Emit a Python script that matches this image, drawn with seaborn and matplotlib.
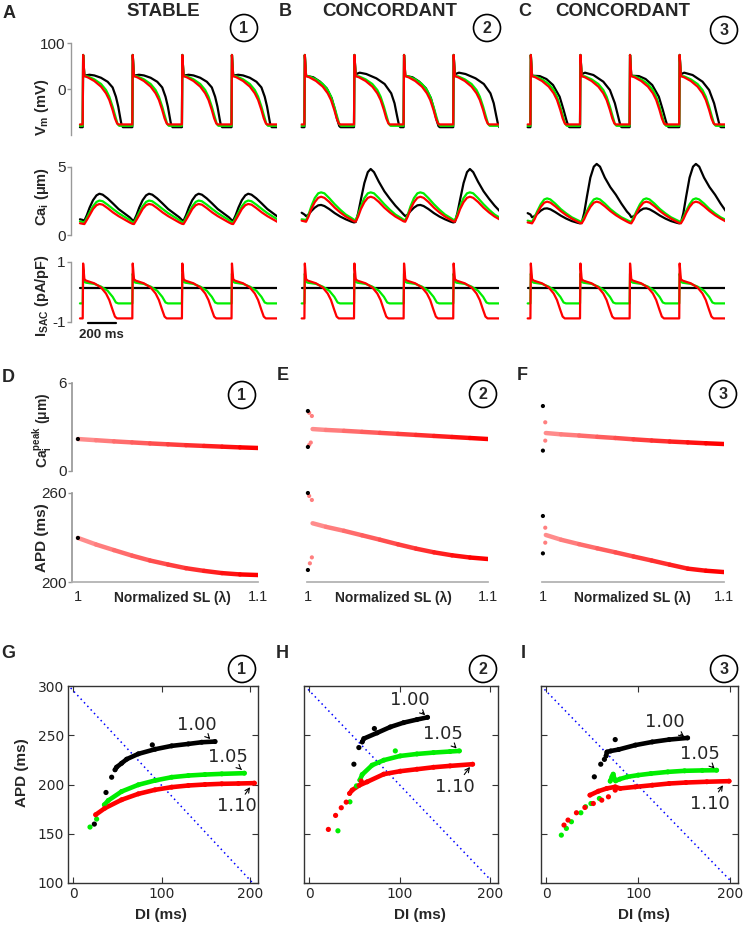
import matplotlib
matplotlib.use("Agg")
import matplotlib.pyplot as plt
import pandas as pd
import seaborn as sns
from matplotlib.patches import Circle

sns.set_theme(style="white")
plt.rcParams["font.family"] = ["Liberation Sans", "DejaVu Sans"]
plt.rcParams["mathtext.fontset"] = "custom"
plt.rcParams["mathtext.rm"] = "Liberation Sans"
plt.rcParams["mathtext.bf"] = "Liberation Sans:bold"
plt.rcParams["mathtext.it"] = "Liberation Sans:italic"
plt.rcParams["axes.unicode_minus"] = False

W, H = 747, 925
BLACK, GREEN, RED, PINK = "#000000", "#00ee00", "#ff0000", "#ff7f7f"
GRAY = "#999999"

# ---------------- A-C : traces (one beat templates, ms after upstroke) ----------------
BCL = 360

VM_T_RED = [0, 3, 12, 36, 84, 133, 169, 193, 217, 234, 249, 258, 360]
VM_RED = [-77, 74, 28, 25.4, 17.4, 5.1, -9.4, -23.9, -45.7, -63.8, -74.6, -77, -77]
VM_T_GREEN = [0, 3, 12, 36, 84, 133, 169, 193, 217, 234, 253, 265, 360]
VM_GREEN = [-80, 74, 28, 27.5, 21, 10.9, -2.2, -16.7, -38.4, -56.5, -76, -80, -80]

VM_T_BLACK_STABLE = [0, 3, 12, 48, 84, 133, 181, 217, 241, 258, 273, 282, 292, 360]
VM_BLACK_STABLE = [-83, 74, 29, 31, 29.5, 24.4, 15.7, 3.4, -16.9, -38.4, -63.8, -78.3, -83, -83]
VM_T_BLACK_B_SHORT = [0, 3, 12, 24, 65, 113, 162, 198, 222, 239, 253, 262, 360]
VM_BLACK_B_SHORT = [-83, 74, 29, 28, 25.4, 16, 1.4, -20, -46, -67.5, -80.5, -83, -83]
VM_T_BLACK_B_LONG = [0, 3, 12, 41, 89, 162, 222, 270, 294, 311, 326, 335, 360]
VM_BLACK_B_LONG = [-83, 74, 32, 35.5, 32.6, 23.2, 10.9, -9.4, -31, -56.5, -78.3, -83, -83]
VM_T_BLACK_C_SHORT = [0, 3, 12, 68, 116, 164, 212, 241, 261, 275, 283, 360]
VM_BLACK_C_SHORT = [-83, 74, 29, 28, 21.7, 8.7, -16.7, -45.7, -67.5, -80.5, -83, -83]
VM_T_BLACK_C_LONG = [0, 3, 12, 36, 97, 169, 217, 253, 277, 294, 302, 360]
VM_BLACK_C_LONG = [-83, 74, 32, 35.5, 30.4, 15.9, -2.2, -31, -60, -80.5, -83, -83]

CA_T = [0, 12, 30, 50, 75, 100, 121, 145, 180, 220, 260, 300, 340, 360]
CA_A_BLACK = [1.1, 1.05, 1.45, 2.0, 2.55, 2.9, 3.02, 2.95, 2.68, 2.3, 1.9, 1.6, 1.3, 1.1]
CA_A_GREEN = [0.95, 0.92, 1.25, 1.65, 2.1, 2.42, 2.52, 2.47, 2.22, 1.9, 1.6, 1.35, 1.1, 0.95]
CA_A_RED = [0.82, 0.8, 1.1, 1.45, 1.9, 2.18, 2.27, 2.22, 1.97, 1.65, 1.38, 1.15, 0.92, 0.82]
CA_B_BLACK_SHORT = [1.5, 1.38, 1.5, 1.75, 2.0, 2.17, 2.2, 2.12, 1.9, 1.6, 1.35, 1.15, 0.98, 0.92]
CA_B_BLACK_LONG = [0.92, 0.95, 1.6, 2.6, 3.8, 4.6, 4.83, 4.6, 3.9, 3.2, 2.65, 2.15, 1.72, 1.5]
CA_B_GREEN = [1.12, 1.08, 1.5, 2.1, 2.7, 3.05, 3.12, 3.05, 2.7, 2.25, 1.85, 1.5, 1.25, 1.12]
CA_B_RED = [1.0, 0.97, 1.35, 1.9, 2.4, 2.72, 2.8, 2.72, 2.42, 2.0, 1.65, 1.35, 1.12, 1.0]
CA_C_BLACK_SHORT = [1.5, 1.3, 1.38, 1.55, 1.78, 1.93, 1.95, 1.88, 1.68, 1.42, 1.2, 1.02, 0.9, 0.85]
CA_C_BLACK_LONG = [0.85, 0.9, 1.6, 2.8, 4.2, 5.0, 5.2, 5.0, 4.2, 3.5, 2.95, 2.3, 1.72, 1.5]
CA_C_GREEN = [1.0, 0.97, 1.3, 1.75, 2.25, 2.6, 2.68, 2.6, 2.3, 1.9, 1.58, 1.3, 1.1, 1.0]
CA_C_RED = [0.88, 0.85, 1.15, 1.6, 2.05, 2.36, 2.44, 2.37, 2.1, 1.75, 1.45, 1.2, 0.98, 0.88]
CA_START = [(1.15, 1.0, 0.86), (1.63, 1.15, 1.05), (1.6, 1.05, 0.92)]  # black, green, red

ISAC_T_RED = [0, 3, 12, 24, 84, 133, 169, 193, 217, 234, 249, 360]
ISAC_RED = [-0.89, 0.94, 0.42, 0.37, 0.28, 0.14, -0.06, -0.28, -0.61, -0.83, -0.89, -0.89]
ISAC_T_GREEN = [0, 3, 12, 24, 84, 133, 181, 217, 241, 258, 360]
ISAC_GREEN = [-0.39, 0.6, 0.33, 0.3, 0.26, 0.17, 0.03, -0.17, -0.36, -0.39, -0.39]
ISAC_BLACK = 0.14

# ---------------- D-F : peak Ca and APD vs normalized SL ----------------
LAM = [1.00, 1.01, 1.02, 1.03, 1.04, 1.05, 1.06, 1.07, 1.08, 1.09, 1.10]
LAM_E = [1.0026, 1.01, 1.02, 1.03, 1.04, 1.05, 1.06, 1.07, 1.08, 1.09, 1.10]
LAM_F = [1.0016, 1.01, 1.02, 1.03, 1.04, 1.05, 1.06, 1.07, 1.08, 1.09, 1.10]
D_CA = [2.18, 2.10, 2.02, 1.95, 1.88, 1.82, 1.76, 1.71, 1.66, 1.61, 1.57]
D_APD = [229.7, 225.3, 221.5, 217.8, 214.5, 211.8, 209.3, 207.5, 206.0, 205.1, 204.7]
E_CA = [2.86, 2.80, 2.74, 2.67, 2.60, 2.53, 2.46, 2.39, 2.32, 2.25, 2.18]
E_APD = [239.6, 237.2, 234.5, 231.5, 228.5, 225.4, 222.5, 220.0, 218.0, 216.5, 215.5]
F_CA = [2.59, 2.50, 2.42, 2.33, 2.25, 2.16, 2.08, 2.01, 1.95, 1.89, 1.84]
F_APD = [231.7, 228.5, 225.5, 222.7, 220.0, 217.2, 214.5, 211.7, 209.0, 207.6, 206.7]

D_CA_BLACK = [(1.0, 2.18)]
D_APD_BLACK = [(1.0, 229.7)]
E_CA_BLACK = [(1.0, 4.09), (1.0, 1.64)]
E_CA_PINK = [(1.0007, 3.97), (1.0022, 3.75), (1.0007, 1.78), (1.0016, 1.94)]
E_APD_BLACK = [(1.0, 260.0), (1.0, 208.1)]
E_APD_PINK = [(1.0007, 258.0), (1.0022, 255.3), (1.0022, 216.6), (1.0011, 212.6)]
F_CA_BLACK = [(1.0, 4.43), (1.0, 1.39)]
F_CA_PINK = [(1.0013, 3.32), (1.0013, 2.07)]
F_APD_BLACK = [(1.0, 244.5), (1.0, 219.3)]
F_APD_PINK = [(1.0013, 236.6), (1.0013, 226.5)]

# ---------------- G-I : restitution (DI, APD) ----------------
G_BLACK_SPARSE = [(23.8, 159.8), (37, 191.9), (43.4, 207.4), (89.4, 240.2)]
G_BLACK = [(47.2, 214.9), (49, 217.6), (54.7, 221.6), (60.4, 225.7), (73.6, 231.1), (92.5, 235.8),
           (111.3, 239.2), (130.2, 241.2), (145.3, 242.9), (160.4, 243.6)]
G_GREEN_SPARSE = [(18.9, 156.8), (26.4, 164.9)]
G_GREEN = [(35.1, 179.4), (39.6, 183.8), (54.7, 192.9), (73.6, 199.7), (92.5, 204.1), (111.3, 207.4),
           (130.2, 209.1), (149, 210.1), (168, 210.8), (193.6, 211.5)]
G_RED_SPARSE = []
G_RED = [(25.3, 169.3), (35.8, 176), (54.7, 184.5), (73.6, 190.5), (92.5, 194.6), (111.3, 197.3),
         (130.2, 199), (149, 200), (168, 200.7), (186.8, 201), (204.9, 201.4)]

H_BLACK_SPARSE = [(49.3, 220.6), (54.8, 237.5), (72, 256.8)]
H_BLACK = [(58.5, 243.2), (60.3, 246.6), (75, 252.4), (89.7, 258.4), (104.4, 262.8), (119.1, 265.9),
           (130.9, 268.2)]
H_GREEN_SPARSE = [(31.6, 153), (44.9, 182.4), (52.2, 198.6), (95.2, 234.1)]
H_GREEN = [(55.9, 204.4), (58.5, 210.1), (69.5, 219.6), (82.4, 224.7), (100.7, 229), (119.1, 231),
           (137.5, 232.4), (155.9, 233.5), (166.2, 234.1)]
H_RED_SPARSE = [(21, 154.4), (29, 168.6), (35.3, 176.4), (40.8, 182.1), (57.4, 203.4)]
H_RED = [(44.5, 190.9), (47.4, 194.3), (55, 199), (64, 202.7), (82.4, 210.5), (100.7, 213.5),
         (119.1, 215.5), (137.5, 217.5), (155.9, 218.9), (180.9, 220.6)]

I_BLACK_SPARSE = [(52.2, 207.8), (59.2, 220.6), (63.2, 225.5), (75, 245.6)]
I_BLACK = [(65, 229), (66, 233), (70, 234), (78.7, 235.5), (97, 240), (115.4, 243.2), (133.8, 245.6),
           (154, 247.3)]
I_GREEN_SPARSE = [(16.2, 148.6), (21.7, 155.4), (27.2, 162.2), (37.5, 171.3), (42.6, 177.4),
                  (48.5, 180.7), (57.7, 185.8)]
I_GREEN = [(69.5, 203.4), (71.5, 208), (72.8, 210.5), (74, 206), (75.4, 203.7), (80, 205.5),
           (88.2, 207.8), (100, 209.5), (114, 211.1), (132.4, 212.8), (150.7, 213.9), (170, 214.3),
           (185.7, 214.5)]
I_RED_SPARSE = [(19.1, 158.8), (23.5, 163.9), (32.7, 171.3), (41.9, 176.7), (51.1, 180.7),
                (60.3, 184.1), (67.6, 187.5), (75, 194.3)]
I_RED = [(47.4, 189.2), (56.6, 193.2), (65.8, 196), (75, 197.6), (80.5, 196), (97, 197.6),
         (115.4, 199.3), (133.8, 201), (152.2, 202), (175, 202.8), (199.3, 203.4)]

G_DIAG = [(-3, 298), (202, 101)]
H_DIAG = [(-1.5, 296.6), (201, 103)]
I_DIAG = [(-2.2, 296.6), (201.8, 101.4)]

G_LABELS = [("1.00", (139.6, 260.5), (155, 246)), ("1.05", (174.7, 227.7), (190.6, 214.9)),
            ("1.10", (184.9, 177.7), (200, 197.3))]
H_LABELS = [("1.00", (111, 285.5), (128.3, 270.3)), ("1.05", (147.8, 251), (163.2, 236.5)),
            ("1.10", (161.4, 197.6), (178, 217.9))]
I_LABELS = [("1.00", (129, 263.5), (150.4, 248.3)), ("1.05", (167.6, 230.7), (183.5, 216.2)),
            ("1.10", (178.7, 180), (192.6, 199.3))]


fig = plt.figure(figsize=(W / 100, H / 100), dpi=100)


def px_axes(left, top, right, bottom):
    return fig.add_axes([left / W, 1 - bottom / H, (right - left) / W, (bottom - top) / H])


def train(beats, start):
    xs, ys = [-20], [start]
    for k, (t, v) in enumerate(beats):
        xs += [k * BCL + ti for ti in t]
        ys += list(v)
    return xs, ys


def draw_line(ax, xs, ys, color, lw):
    sns.lineplot(x=xs, y=ys, ax=ax, color=color, lw=lw, estimator=None,
                 sort=False, legend=False)


def style_trace(ax, ylim, yticks, show):
    ax.set_xlim(-85, 1410)
    ax.set_ylim(*ylim)
    ax.set_xticks([])
    ax.set_xlabel("")
    ax.set_ylabel("")
    ax.patch.set_alpha(0)
    for s in ax.spines.values():
        s.set_visible(False)
    if show:
        ax.spines["left"].set_visible(True)
        ax.spines["left"].set_color(GRAY)
        ax.spines["left"].set_linewidth(1)
        ax.spines["left"].set_bounds(ylim[0], yticks[-1])
        ax.set_yticks(yticks)
        ax.tick_params(axis="y", left=True, length=3, width=1, color=GRAY, pad=1, labelsize=11)
    else:
        ax.set_yticks([])


COL_X = [(71, 277), (292.7, 498.7), (518.7, 724.7)]
vm_black = [
    [(VM_T_BLACK_STABLE, VM_BLACK_STABLE)] * 4,
    [(VM_T_BLACK_B_SHORT, VM_BLACK_B_SHORT), (VM_T_BLACK_B_LONG, VM_BLACK_B_LONG)] * 2,
    [(VM_T_BLACK_C_SHORT, VM_BLACK_C_SHORT), (VM_T_BLACK_C_LONG, VM_BLACK_C_LONG)] * 2,
]
ca_black = [
    [CA_A_BLACK] * 4,
    [CA_B_BLACK_SHORT, CA_B_BLACK_LONG] * 2,
    [CA_C_BLACK_SHORT, CA_C_BLACK_LONG] * 2,
]
ca_green = [CA_A_GREEN, CA_B_GREEN, CA_C_GREEN]
ca_red = [CA_A_RED, CA_B_RED, CA_C_RED]

for ci, (x0, x1) in enumerate(COL_X):
    show = ci == 0
    # membrane potential
    ax = px_axes(x0, 43, x1, 135)
    draw_line(ax, *train(vm_black[ci], -83), BLACK, 1.6)
    draw_line(ax, *train([(VM_T_GREEN, VM_GREEN)] * 4, -80), GREEN, 1.6)
    draw_line(ax, *train([(VM_T_RED, VM_RED)] * 4, -77), RED, 1.6)
    style_trace(ax, (-100, 100), [0, 100], show)

    # calcium (axes reach a bit above 5 so the tallest transients are not cut)
    ax = px_axes(x0, 161.2, x1, 235)
    b, g, r = CA_START[ci]
    draw_line(ax, *train([(CA_T, v) for v in ca_black[ci]], b), BLACK, 1.6)
    draw_line(ax, *train([(CA_T, ca_green[ci])] * 4, g), GREEN, 1.6)
    draw_line(ax, *train([(CA_T, ca_red[ci])] * 4, r), RED, 1.6)
    style_trace(ax, (0, 5.4), [0, 5], show)

    # stretch-activated current
    ax = px_axes(x0, 261.7, x1, 321.7)
    draw_line(ax, [-20, 1410], [ISAC_BLACK, ISAC_BLACK], BLACK, 1.6)
    draw_line(ax, *train([(ISAC_T_GREEN, ISAC_GREEN)] * 4, -0.39), GREEN, 1.6)
    draw_line(ax, *train([(ISAC_T_RED, ISAC_RED)] * 4, -0.89), RED, 1.6)
    style_trace(ax, (-1, 1), [-1, 1], show)
    if show:
        ax.plot([38, 238], [-1.05, -1.05], color="black", lw=1.6, clip_on=False)
        ax.text(138, -1.45, "200 ms", ha="center", va="center", fontsize=9.5,
                fontweight="bold", clip_on=False)


# ---------------- D-F ----------------
def gradient(ax, lam, vals):
    n = len(lam) - 1
    rows = []
    for i in range(n):
        rows += [{"lam": lam[i], "val": vals[i], "seg": i},
                 {"lam": lam[i + 1], "val": vals[i + 1], "seg": i}]
    df = pd.DataFrame(rows)
    c0, c1 = (1.0, 0.55, 0.55), (1.0, 0.0, 0.0)
    pal = {i: tuple(a + (b_ - a) * i / (n - 1) for a, b_ in zip(c0, c1)) for i in range(n)}
    sns.lineplot(data=df, x="lam", y="val", hue="seg", units="seg", palette=pal,
                 estimator=None, lw=3.2, legend=False, ax=ax)


def dots(ax, pts, color, s=9):
    if not pts:
        return
    sns.scatterplot(x=[p[0] for p in pts], y=[p[1] for p in pts], color=color, s=s,
                    edgecolor="none", ax=ax, legend=False, clip_on=False, zorder=5)


def style_sl(ax, xlim, ylim, yticks, show_y, bottom):
    ax.set_xlim(*xlim)
    ax.set_ylim(*ylim)
    ax.set_xlabel("")
    ax.set_ylabel("")
    ax.patch.set_alpha(0)
    for s in ax.spines.values():
        s.set_visible(False)
    if show_y:
        ax.spines["left"].set_visible(True)
        ax.spines["left"].set_color(GRAY)
        ax.set_yticks(yticks)
        ax.tick_params(axis="y", left=True, length=3, width=1, color=GRAY, pad=1, labelsize=11)
    else:
        ax.set_yticks([])
    if bottom:
        ax.spines["bottom"].set_visible(True)
        ax.spines["bottom"].set_color("#b0b0b0")
        ax.set_xticks([1.0, 1.1])
        ax.set_xticklabels(["1", "1.1"])
        ax.tick_params(axis="x", bottom=True, length=0, pad=6, labelsize=10.5)
    else:
        ax.set_xticks([])


SL_COLS = [
    ((72, 258), (0.9967, 1.1), LAM, D_CA, D_APD, D_CA_BLACK, [], D_APD_BLACK, []),
    ((307, 488), (0.9995, 1.1), LAM_E, E_CA, E_APD, E_CA_BLACK, E_CA_PINK, E_APD_BLACK, E_APD_PINK),
    ((542, 724), (0.9995, 1.1), LAM_F, F_CA, F_APD, F_CA_BLACK, F_CA_PINK, F_APD_BLACK, F_APD_PINK),
]
for ci, ((x0, x1), xlim, lam, ca, apd, cab, cap, apb, app) in enumerate(SL_COLS):
    ax = px_axes(x0, 383, x1, 471)
    gradient(ax, lam, ca)
    dots(ax, cap, PINK)
    dots(ax, cab, BLACK)
    style_sl(ax, xlim, (0, 6), [0, 6], ci == 0, False)

    ax = px_axes(x0, 493, x1, 582)
    gradient(ax, lam, apd)
    dots(ax, app, PINK)
    dots(ax, apb, BLACK)
    style_sl(ax, xlim, (200, 260), [200, 260], ci == 0, True)


# ---------------- G-I ----------------
REST = [
    ((68, 258), G_DIAG, [(G_BLACK_SPARSE, G_BLACK, BLACK), (G_GREEN_SPARSE, G_GREEN, GREEN),
                         (G_RED_SPARSE, G_RED, RED)], G_LABELS),
    ((304, 498), H_DIAG, [(H_BLACK_SPARSE, H_BLACK, BLACK), (H_GREEN_SPARSE, H_GREEN, GREEN),
                          (H_RED_SPARSE, H_RED, RED)], H_LABELS),
    ((541, 738), I_DIAG, [(I_BLACK_SPARSE, I_BLACK, BLACK), (I_GREEN_SPARSE, I_GREEN, GREEN),
                          (I_RED_SPARSE, I_RED, RED)], I_LABELS),
]
for ci, ((x0, x1), diag, curves, labels) in enumerate(REST):
    ax = px_axes(x0, 686, x1, 883)
    sns.lineplot(x=[p[0] for p in diag], y=[p[1] for p in diag], ax=ax, color="#0000ff",
                 lw=1.1, linestyle=(0, (1, 2.2)), estimator=None, legend=False)
    for sparse, dense, color in curves:
        draw_line(ax, [p[0] for p in dense], [p[1] for p in dense], color, 3.3)
        dots(ax, dense, color, s=13)
        dots(ax, sparse, color, s=14)
    for txt, xyt, xy in labels:
        ax.annotate(txt, xy=xy, xytext=xyt, ha="center", va="center", fontsize=13,
                    family="DejaVu Sans",
                    arrowprops=dict(arrowstyle="->", lw=0.8, color="black",
                                    shrinkA=0, shrinkB=0, mutation_scale=8))
    ax.set_xlim(-6, 209)
    ax.set_ylim(100, 300)
    ax.set_xticks([0, 100, 200])
    ax.set_yticks([100, 150, 200, 250, 300])
    ax.set_xlabel("")
    ax.set_ylabel("")
    ax.tick_params(direction="in", length=4, width=0.8, top=True, right=True, bottom=True,
                   left=True, labelsize=10, pad=3, color="#333333", labelleft=ci == 0)
    for lab in ax.get_xticklabels() + ax.get_yticklabels():
        lab.set_family("DejaVu Sans")
    for s in ax.spines.values():
        s.set_color("#333333")
        s.set_linewidth(1)


# ---------------- overlay: letters, titles, circled numbers, axis labels ----------------
ov = fig.add_axes([0, 0, 1, 1])
ov.set_xlim(0, W)
ov.set_ylim(H, 0)
ov.axis("off")


def t(x, y, s, size, rot=0, weight="bold", **kw):
    ov.text(x, y, s, fontsize=size, fontweight=weight, rotation=rot,
            ha="center", va="center", **kw)


for x, y, s in [(9, 13, "A"), (285, 12, "B"), (525, 12, "C"),
                (8, 377, "D"), (283, 376, "E"), (522, 376, "F"),
                (8, 653, "G"), (282, 654, "H"), (523, 653, "I")]:
    t(x, y, s, 13)
for x, s in [(163, "STABLE"), (390, "CONCORDANT"), (623, "CONCORDANT")]:
    t(x, 12, s, 13.5)

for (x, y), s in zip([(244, 28), (487, 28), (724, 30), (242, 395), (483, 394), (723, 394),
                      (242, 669), (483, 669), (724, 669)], "123123123"):
    ov.add_patch(Circle((x, y), 13.5, fill=False, ec="black", lw=1.2))
    t(x, y + 0.5, s, 11.5)

t(42, 107, r"$\mathbf{V_m}$ (mV)", 10.5, rot=90)
t(42, 196, r"$\mathbf{Ca_i}$ (μm)", 10.5, rot=90)
t(42, 296, r"$\mathbf{I_{SAC}}$ (pA/pF)", 10.5, rot=90)
t(42, 430, r"$\mathbf{Ca_i^{peak}}$ (μm)", 10, rot=90)
t(42, 538, "APD (ms)", 11, rot=90)
for x in [172, 393, 632]:
    t(x, 598, "Normalized SL (λ)", 10)
t(22, 773, "APD (ms)", 11, rot=90)
for x in [161, 420, 644]:
    t(x, 915, "DI (ms)", 11)

fig.savefig("out.png", dpi=100)
